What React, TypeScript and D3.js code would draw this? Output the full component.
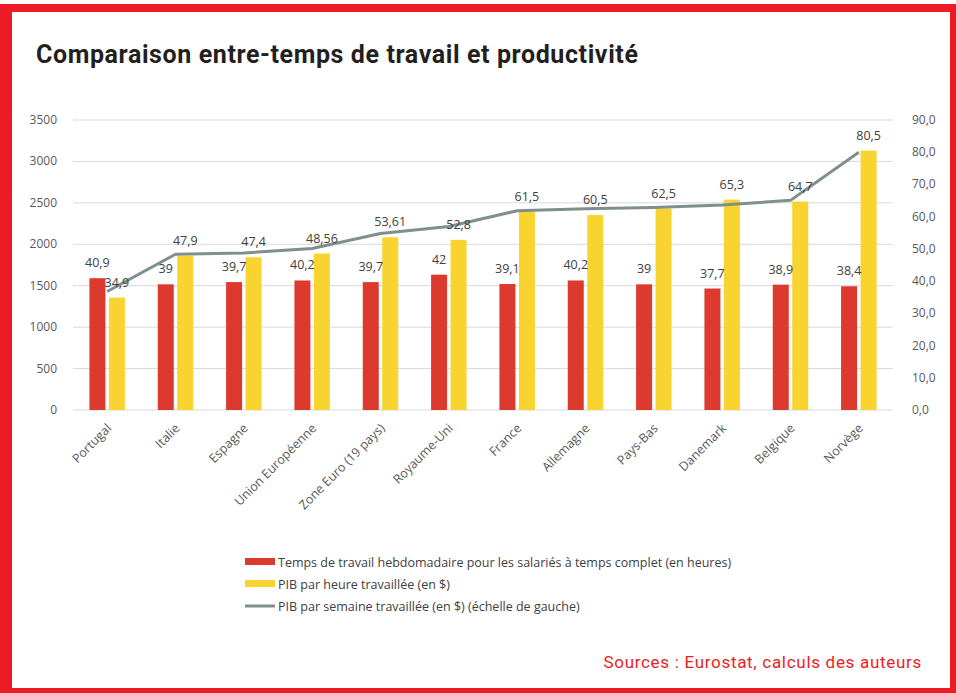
import React from "react";
import * as d3 from "d3";

const categories = ["Portugal", "Italie", "Espagne", "Union Européenne", "Zone Euro (19 pays)", "Royaume-Uni", "France", "Allemagne", "Pays-Bas", "Danemark", "Belgique", "Norvège"];
const hoursPerWeek = [40.9, 39, 39.7, 40.2, 39.7, 42, 39.1, 40.2, 39, 37.7, 38.9, 38.4];
const gdpPerHour = [34.9, 47.9, 47.4, 48.56, 53.61, 52.8, 61.5, 60.5, 62.5, 65.3, 64.7, 80.5];
const gdpPerWeek = [1430, 1880, 1895, 1950, 2130, 2215, 2405, 2430, 2445, 2475, 2530, 3110];
const leftTicks = [0, 500, 1000, 1500, 2000, 2500, 3000, 3500];
const rightTicks = [0, 10, 20, 30, 40, 50, 60, 70, 80, 90];
const legendLabels = [
  "Temps de travail hebdomadaire pour les salariés à temps complet (en heures)",
  "PIB par heure travaillée (en $)",
  "PIB par semaine travaillée (en $) (échelle de gauche)",
];

const W = 956, H = 693;
const L = 73, R = 893, T = 120, B = 410;
const RED = "#dd3a2f", YEL = "#f9d430", LINE = "#7f8f8d", FRAME = "#ed1c24";
const FONT = "'Open Sans', 'Noto Sans', sans-serif";

export default function App() {
  const x = d3.scaleBand<string>().domain(categories).range([L, R]);
  const yL = d3.scaleLinear().domain([0, 3500]).range([B, T]);
  const yR = d3.scaleLinear().domain([0, 90]).range([B, T]);
  const bw = 16, off = 9.75;
  const cx = (c: string) => (x(c) as number) + x.bandwidth() / 2;
  const fmt = (v: number) => String(v).replace(".", ",");
  const line = d3.line<number>().x((_, i) => cx(categories[i])).y((d) => yL(d));

  return (
    <div style={{ position: "absolute", left: 0, top: 0 }}>
      <svg width={W} height={H} style={{ display: "block", background: "#fff" }}>
        {/* frame */}
        <rect x={0} y={4} width={12} height={H - 4} fill={FRAME} />
        <rect x={0} y={4} width={W} height={8} fill={FRAME} />
        <rect x={950} y={4} width={6} height={H - 4} fill={FRAME} />
        <rect x={0} y={688} width={W} height={5} fill={FRAME} />

        <text x={36} y={63} fontFamily="Roboto, sans-serif" fontWeight={700} fontSize={25} letterSpacing={0.6} fill="#231f20">
          Comparaison entre-temps de travail et productivité
        </text>

        {/* gridlines */}
        {leftTicks.map((t) => (
          <line key={t} x1={L} x2={R} y1={yL(t)} y2={yL(t)} stroke="#d9d9d9" strokeWidth={1} />
        ))}
        {leftTicks.map((t) => (
          <text key={"l" + t} x={57} y={yL(t) + 4} textAnchor="end" fontFamily={FONT} fontSize={12} fill="#595959">
            {t}
          </text>
        ))}
        {rightTicks.map((t) => (
          <text key={"r" + t} x={912} y={yR(t) + 4} textAnchor="start" fontFamily={FONT} fontSize={12} fill="#595959">
            {t.toFixed(1).replace(".", ",")}
          </text>
        ))}

        {/* bars */}
        {categories.map((c, i) => (
          <g key={c}>
            <rect x={cx(c) - off - bw / 2} y={yR(hoursPerWeek[i])} width={bw} height={B - yR(hoursPerWeek[i])} fill={RED} />
            <rect x={cx(c) + off - bw / 2} y={yR(gdpPerHour[i])} width={bw} height={B - yR(gdpPerHour[i])} fill={YEL} />
          </g>
        ))}

        <path d={line(gdpPerWeek) || ""} fill="none" stroke={LINE} strokeWidth={3} strokeLinejoin="round" />

        {/* value labels */}
        {categories.map((c, i) => (
          <g key={"v" + c} fontFamily={FONT} fontSize={12.5} fill="#404040" textAnchor="middle">
            <text x={cx(c) - off} y={yR(hoursPerWeek[i]) - 11}>{fmt(hoursPerWeek[i])}</text>
            <text x={cx(c) + off} y={yR(gdpPerHour[i]) - 11}>{fmt(gdpPerHour[i])}</text>
          </g>
        ))}

        {/* category labels */}
        {categories.map((c) => (
          <text
            key={"c" + c}
            transform={`translate(${cx(c) + 5},${B + 19}) rotate(-45)`}
            textAnchor="end"
            fontFamily={FONT}
            fontSize={12.5}
            fill="#595959"
          >
            {c}
          </text>
        ))}

        {/* legend */}
        {legendLabels.map((lab, i) => {
          const yy = 562 + i * 22;
          return (
            <g key={lab}>
              {i < 2 ? (
                <rect x={245} y={yy - 4} width={30} height={7} fill={i === 0 ? RED : YEL} />
              ) : (
                <line x1={245} x2={275} y1={yy} y2={yy} stroke={LINE} strokeWidth={3} />
              )}
              <text x={278} y={yy + 4.5} fontFamily={FONT} fontSize={12.5} fill="#404040">
                {lab}
              </text>
            </g>
          );
        })}

        <text x={922} y={668} textAnchor="end" fontFamily="Roboto, sans-serif" fontSize={17} letterSpacing={0.7} fill={FRAME}>
          Sources : Eurostat, calculs des auteurs
        </text>
      </svg>
    </div>
  );
}
